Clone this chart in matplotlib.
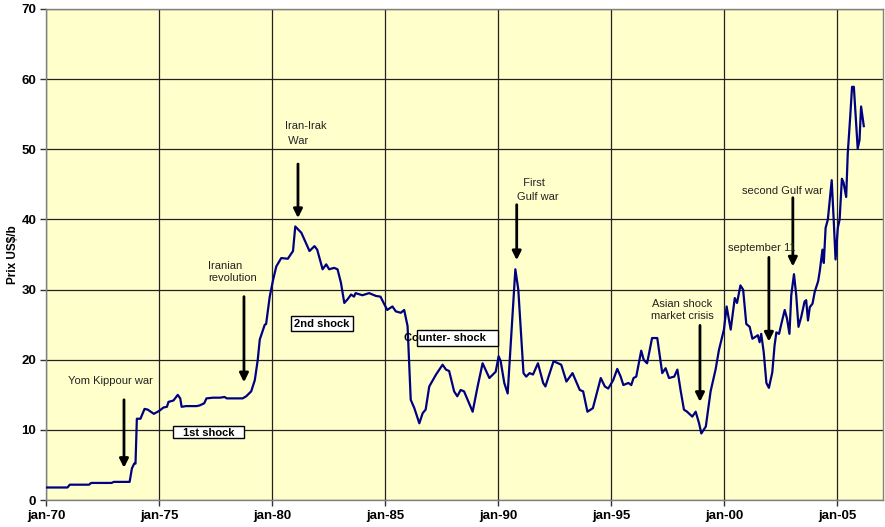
import matplotlib
matplotlib.use("Agg")
import matplotlib.pyplot as plt
from matplotlib.patches import Rectangle

plt.rcParams['font.family'] = ['Liberation Sans', 'DejaVu Sans']

years = [1970.0, 1970.95, 1971.05, 1971.9, 1972.0, 1972.9, 1973.0, 1973.7, 1973.8, 1973.9,
         1973.96, 1974.02, 1974.18, 1974.36, 1974.5, 1974.77, 1975.0, 1975.2, 1975.35, 1975.42,
         1975.64, 1975.83, 1975.94, 1976.0, 1976.2, 1976.67, 1976.8, 1977.0, 1977.1, 1977.4,
         1977.7, 1977.9, 1978.0, 1978.3, 1978.7, 1978.86, 1979.08, 1979.24, 1979.37, 1979.46,
         1979.68, 1979.74, 1979.9, 1980.05, 1980.19, 1980.41, 1980.7, 1980.93, 1981.03, 1981.15,
         1981.3, 1981.66, 1981.88, 1982.0, 1982.24, 1982.4, 1982.53, 1982.75, 1982.9, 1983.05,
         1983.2, 1983.34, 1983.5, 1983.63, 1983.7, 1984.0, 1984.3, 1984.6, 1984.8, 1985.1,
         1985.33, 1985.48, 1985.7, 1985.85, 1986.0, 1986.14, 1986.3, 1986.52, 1986.67, 1986.8,
         1986.96, 1987.26, 1987.55, 1987.7, 1987.84, 1988.06, 1988.2, 1988.35, 1988.5, 1988.88,
         1989.1, 1989.32, 1989.62, 1989.9, 1990.03, 1990.12, 1990.28, 1990.43, 1990.77, 1990.9,
         1991.13, 1991.25, 1991.4, 1991.55, 1991.77, 1992.0, 1992.1, 1992.46, 1992.8, 1993.03,
         1993.3, 1993.62, 1993.77, 1993.96, 1994.2, 1994.55, 1994.73, 1994.88, 1995.1, 1995.28,
         1995.43, 1995.55, 1995.77, 1995.9, 1996.0, 1996.12, 1996.34, 1996.45, 1996.6, 1996.82,
         1997.05, 1997.27, 1997.42, 1997.57, 1997.8, 1997.94, 1998.08, 1998.23, 1998.37, 1998.6,
         1998.75, 1998.9, 1999.0, 1999.2, 1999.41, 1999.63, 1999.78, 2000.0, 2000.12, 2000.3,
         2000.48, 2000.58, 2000.73, 2000.85, 2000.99, 2001.14, 2001.26, 2001.36, 2001.5, 2001.58,
         2001.65, 2001.76, 2001.88, 2001.99, 2002.14, 2002.24, 2002.32, 2002.44, 2002.54, 2002.69,
         2002.79, 2002.9, 2002.98, 2003.1, 2003.2, 2003.3, 2003.42, 2003.57, 2003.64, 2003.72,
         2003.8, 2003.92, 2004.02, 2004.17, 2004.24, 2004.36, 2004.42, 2004.5, 2004.6, 2004.68,
         2004.77, 2004.86, 2004.94, 2005.04, 2005.12, 2005.22, 2005.29, 2005.41, 2005.48, 2005.59,
         2005.67, 2005.75, 2005.92, 2006.0, 2006.07, 2006.19]

prices = [1.8, 1.8, 2.2, 2.2, 2.45, 2.45, 2.6, 2.6, 4.5, 5.2,
          5.2, 11.6, 11.6, 13.0, 12.9, 12.3, 12.7, 13.2, 13.3, 14.0,
          14.2, 15.0, 14.5, 13.3, 13.4, 13.4, 13.5, 13.8, 14.5, 14.6,
          14.6, 14.7, 14.5, 14.5, 14.5, 14.8, 15.5, 17.1, 20.0, 22.9,
          25.0, 25.1, 29.0, 31.4, 33.3, 34.5, 34.4, 35.5, 39.0, 38.6,
          38.1, 35.5, 36.2, 35.7, 32.9, 33.6, 32.9, 33.1, 32.9, 31.0,
          28.1, 28.6, 29.3, 29.0, 29.5, 29.2, 29.5, 29.1, 29.0, 27.1,
          27.6, 26.9, 26.7, 27.1, 24.8, 14.3, 13.1, 10.95, 12.4, 12.9,
          16.2, 17.9, 19.3, 18.6, 18.4, 15.5, 14.8, 15.7, 15.5, 12.6,
          16.2, 19.5, 17.4, 18.3, 20.5, 19.8, 16.7, 15.2, 32.9, 30.0,
          18.1, 17.6, 18.1, 17.9, 19.5, 16.7, 16.2, 19.8, 19.3, 16.9,
          18.1, 15.7, 15.5, 12.6, 13.1, 17.4, 16.2, 15.9, 17.1, 18.7,
          17.6, 16.4, 16.7, 16.4, 17.4, 17.6, 21.3, 20.0, 19.5, 23.1,
          23.1, 18.1, 18.8, 17.4, 17.6, 18.6, 15.7, 12.9, 12.6, 11.9,
          12.6, 10.95, 9.5, 10.5, 15.5, 18.6, 21.4, 24.3, 27.6, 24.3,
          28.8, 28.1, 30.6, 30.0, 25.1, 24.7, 23.0, 23.2, 23.5, 22.5,
          23.7, 21.1, 16.7, 16.0, 18.2, 22.0, 23.9, 23.7, 25.1, 27.1,
          25.9, 23.7, 29.2, 32.2, 29.2, 24.7, 26.1, 28.3, 28.5, 25.6,
          27.5, 28.0, 29.7, 31.2, 32.6, 35.7, 33.8, 38.8, 40.0, 42.7,
          45.6, 39.8, 34.3, 38.8, 40.0, 45.8, 45.3, 43.2, 49.4, 54.7,
          58.9, 58.9, 50.1, 51.3, 56.1, 53.3]

tick_years = [1970, 1975, 1980, 1985, 1990, 1995, 2000, 2005]
tick_labels = ['jan-70', 'jan-75', 'jan-80', 'jan-85', 'jan-90', 'jan-95', 'jan-00', 'jan-05']
y_ticks = [0, 10, 20, 30, 40, 50, 60, 70]

fig = plt.figure(figsize=(8.85, 5.27), dpi=100)
ax = fig.add_axes([0.052, 0.051, 0.946, 0.932])
ax.set_facecolor('#FFFFCC')
ax.plot(years, prices, color='#000080', lw=1.6, zorder=3)

ax.set_xlim(1970, 2007.05)
ax.set_ylim(0, 70)
ax.set_xticks(tick_years)
ax.set_xticklabels(tick_labels, fontsize=9.5, fontweight='bold')
ax.set_yticks(y_ticks)
ax.set_yticklabels([str(v) for v in y_ticks], fontsize=9.5, fontweight='bold')
ax.tick_params(axis='both', direction='out', length=4, width=1, color='#333333', pad=3)
ax.grid(True, color='#222222', lw=0.9, zorder=1)
for s in ax.spines.values():
    s.set_color('#808080')
    s.set_linewidth(1)
ax.set_ylabel(r'Prix US\$/b', fontsize=8.5, fontweight='bold', labelpad=2)

txt_col = '#222222'
fs = 8

def arrow(x, y0, y1):
    ax.annotate('', xy=(x, y1), xytext=(x, y0),
                arrowprops=dict(arrowstyle='-|>', lw=2, color='black',
                                mutation_scale=13, shrinkA=0, shrinkB=0), zorder=5)

def box(x0, x1, y0, y1):
    ax.add_patch(Rectangle((x0, y0), x1 - x0, y1 - y0, facecolor='white',
                           edgecolor='black', lw=1, zorder=4))

# Yom Kippour
ax.text(1972.83, 17.0, 'Yom Kippour war', fontsize=fs, color=txt_col, ha='center', va='center', zorder=6)
arrow(1973.45, 14.3, 4.6)
box(1975.62, 1978.76, 8.86, 10.57)
ax.text(1977.2, 9.6, '1st shock', fontsize=8, fontweight='bold', ha='center', va='center', zorder=6)

# Iranian revolution
ax.text(1977.17, 32.5, 'Iranian\nrevolution', fontsize=fs, color=txt_col, ha='left', va='center',
        linespacing=1.3, zorder=6)
arrow(1978.76, 29.0, 16.8)

# Iran-Irak war
ax.text(1980.58, 52.2, 'Iran-Irak\n War', fontsize=fs, color=txt_col, ha='left', va='center',
        linespacing=1.6, zorder=6)
arrow(1981.15, 47.9, 40.2)
box(1980.84, 1983.58, 24.1, 26.3)
ax.text(1982.2, 25.1, '2nd shock', fontsize=8, fontweight='bold', ha='center', va='center', zorder=6)

# Counter-shock
box(1986.42, 1990.0, 22.0, 24.3)
ax.text(1985.82, 23.1, 'Counter- shock', fontsize=8, fontweight='bold', ha='left', va='center', zorder=6)

# First Gulf war
ax.text(1990.85, 44.2, '  First\nGulf war', fontsize=fs, color=txt_col, ha='left', va='center',
        linespacing=1.6, zorder=6)
arrow(1990.83, 42.1, 34.2)

# Asian shock
ax.text(1998.16, 27.1, 'Asian shock\nmarket crisis', fontsize=fs, color=txt_col, ha='center', va='center',
        linespacing=1.15, zorder=6)
arrow(1998.94, 24.9, 14.0)

# September 11
ax.text(2000.18, 36.0, 'september 11', fontsize=fs, color=txt_col, ha='left', va='center', zorder=6)
arrow(2001.99, 34.6, 22.6)

# Second Gulf war
ax.text(2000.8, 44.0, 'second Gulf war', fontsize=fs, color=txt_col, ha='left', va='center', zorder=6)
arrow(2003.05, 43.1, 33.3)

fig.savefig('out.png', dpi=100, facecolor='white')
